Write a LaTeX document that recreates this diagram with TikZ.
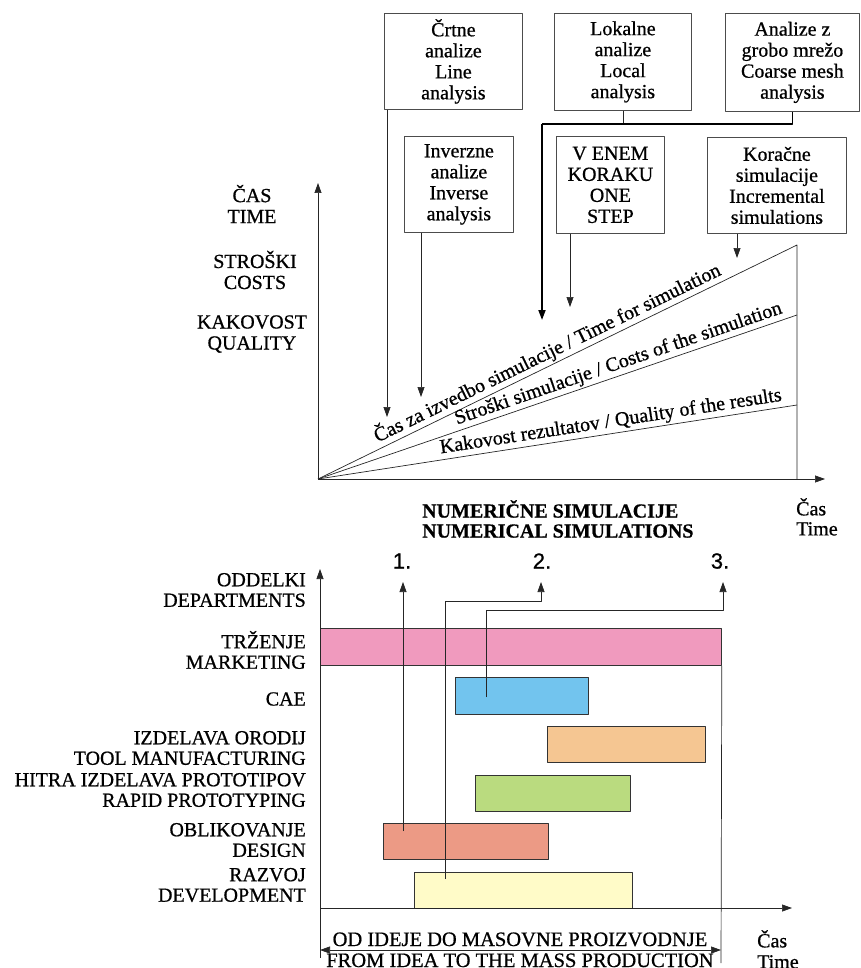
\documentclass[tikz,border=0pt]{standalone}
\usepackage{fontspec}
\setmainfont{Liberation Serif}[FakeBold=0.7]
\setsansfont{Liberation Sans}[FakeBold=0.7]
\usetikzlibrary{arrows.meta,positioning}
\definecolor{cMark}{RGB}{240,154,190}
\definecolor{cCae}{RGB}{114,196,238}
\definecolor{cTool}{RGB}{245,198,146}
\definecolor{cRapid}{RGB}{186,219,127}
\definecolor{cDesign}{RGB}{236,154,133}
\definecolor{cDevel}{RGB}{255,251,200}
\tikzset{
  anbox/.style={draw=black!70, line width=0.8pt, align=center, inner sep=0pt, anchor=north west},
  bar/.style={draw=black!80, line width=0.8pt, inner sep=0pt, anchor=north west},
  lbl/.style={align=center, inner sep=0pt},
  dept/.style={align=right, inner sep=0pt, anchor=east},
  num/.style={font=\sffamily\fontsize{22}{22}\selectfont, inner sep=0pt},
  ln/.style={line width=0.7pt, black!85}
}
\begin{document}
\begin{tikzpicture}[x=1pt,y=-1pt,>={Triangle[length=10pt,width=7pt]},
    line join=round, font=\fontsize{20}{21}\selectfont]
  \useasboundingbox (0,0) rectangle (860,968);
  % upper panel
  \node[anbox,minimum width=138,minimum height=96] (crt) at (384,13) {Črtne\\analize\\Line\\analysis};
  \node[anbox,minimum width=137,minimum height=97] (lok) at (554,13) {Lokalne\\analize\\Local\\analysis};
  \node[anbox,minimum width=134,minimum height=98] (grob) at (725,13) {Analize z\\grobo mrežo\\Coarse mesh\\analysis};
  \node[anbox,minimum width=109,minimum height=96] (inv) at (404,136) {Inverzne\\analize\\Inverse\\analysis};
  \node[anbox,minimum width=108,minimum height=97] (one) at (556,136) {V ENEM\\KORAKU\\ONE\\STEP};
  \node[anbox,minimum width=139,minimum height=96] (kor) at (707,137) {Koračne\\simulacije\\Incremental\\simulations};

  \coordinate (O) at (318,479);
  \coordinate (tEnd) at (797,245);
  \coordinate (cEnd) at (797,315);
  \coordinate (qEnd) at (797,405);
  \draw[ln,->] (O) -- (318,183);
  \draw[ln,->] (O) -- (825,479);
  \draw[ln] (O) -- (tEnd) -- (797,479);
  \draw[ln] (O) -- (cEnd);
  \draw[ln] (O) -- (qEnd);

  \node[lbl] (lTime) at (252,204) {ČAS\\TIME};
  \node[lbl] (lCost) at (255,270) {STROŠKI\\COSTS};
  \node[lbl] (lQual) at (252,334) {KAKOVOST\\QUALITY};

  \path (O) -- (tEnd) node[pos=0.49,sloped,above,inner sep=2pt] (sTime) {Čas za izvedbo simulacije / Time for simulation};
  \path (O) -- (cEnd) node[pos=0.635,sloped,above,inner sep=2pt] (sCost) {Stroški simulacije / Costs of the simulation};
  \path (O) -- (qEnd) node[pos=0.615,sloped,above,inner sep=2pt] (sQual) {Kakovost rezultatov / Quality of the results};

  \coordinate (tCrt) at (387,417);
  \coordinate (tInv) at (421,397);
  \coordinate (jn) at (542,124);
  \coordinate (tLok) at (542,320);
  \coordinate (tOne) at (570,307);
  \coordinate (tKor) at (737,258);
  \draw[ln,->] (crt.south -| tCrt) -- (tCrt);
  \draw[ln,->] (inv.south -| tInv) -- (tInv);
  \draw[ln] (lok.south) -- (lok.south |- jn);
  \draw[line width=1.1pt] (grob.south) |- (jn);
  \draw[line width=1.8pt,->] (jn) -- (tLok);
  \draw[ln,->] (one.south -| tOne) -- (tOne);
  \draw[ln,->] (kor.south -| tKor) -- (tKor);

  \node[align=left,inner sep=0pt,anchor=north west,font=\bfseries\fontsize{20}{20}\selectfont] (numsim) at (422,500) {NUMERIČNE SIMULACIJE\\NUMERICAL SIMULATIONS};
  \node[align=left,inner sep=0pt,anchor=north west,font=\fontsize{20}{20}\selectfont] (cas1) at (796,498) {Čas\\Time};

  % lower panel
  \node[bar,fill=cMark,minimum width=401,minimum height=37] (mark) at (320,628) {};
  \node[bar,fill=cCae,minimum width=133,minimum height=37] (cae) at (455,677) {};
  \node[bar,fill=cTool,minimum width=158,minimum height=36] (tool) at (547,726) {};
  \node[bar,fill=cRapid,minimum width=155,minimum height=36] (rapid) at (475,775) {};
  \node[bar,fill=cDesign,minimum width=165,minimum height=36] (design) at (383,823) {};
  \node[bar,fill=cDevel,minimum width=218,minimum height=36] (devel) at (414,872) {};

  \begin{scope}[font=\fontsize{20}{20.5}\selectfont]
    \node[dept] (dDep) at (306,590) {ODDELKI\\DEPARTMENTS};
    \node[dept] (dMark) at (306,650) {TRŽENJE\\MARKETING};
    \node[dept] (dCae) at (306,699) {CAE};
    \node[dept] (dTool) at (306,748) {IZDELAVA ORODIJ\\TOOL MANUFACTURING};
    \node[dept] (dRapid) at (306,790) {HITRA IZDELAVA PROTOTIPOV\\RAPID PROTOTYPING};
    \node[dept] (dDesign) at (306,840) {OBLIKOVANJE\\DESIGN};
    \node[dept] (dDevel) at (306,885) {RAZVOJ\\DEVELOPMENT};
  \end{scope}

  \coordinate (O2) at (320,908);
  \draw[ln,->] (O2) -- (320,569);
  \draw[ln,->] (O2) -- (792,908);
  \draw[ln] (O2) -- (320,958);
  \draw[ln] (mark.south east) -- (721,963);

  \node[num] (n1) at (402,561) {1.};
  \node[num] (n2) at (542,561) {2.};
  \node[num] (n3) at (720,561) {3.};
  \coordinate (p1) at (403,831);
  \coordinate (p2) at (445,879);
  \coordinate (p3) at (486,697);
  \coordinate (q1) at (403,582);
  \coordinate (q2) at (541,582);
  \coordinate (q3) at (723,582);
  \draw[ln,->] (p1) -- (q1);
  \draw[ln,->] (p2) |- (541,601) -- (q2);
  \draw[ln,->] (p3) |- (723,610) -- (q3);

  \coordinate (dL) at (320,950);
  \coordinate (dR) at (721,950);
  \draw[ln,<->] (dL) -- (dR);
  \node[anchor=base,inner sep=0pt,font=\fontsize{20.5}{21}\selectfont] (od) at (520,946) {OD IDEJE DO MASOVNE PROIZVODNJE};
  \node[anchor=base,inner sep=0pt,font=\fontsize{20.5}{21}\selectfont] (from) at (520,967) {FROM IDEA TO THE MASS PRODUCTION};
  \node[align=left,inner sep=0pt,anchor=north west,font=\fontsize{20}{21}\selectfont] (cas2) at (757,930) {Čas\\Time};
\end{tikzpicture}
\end{document}
